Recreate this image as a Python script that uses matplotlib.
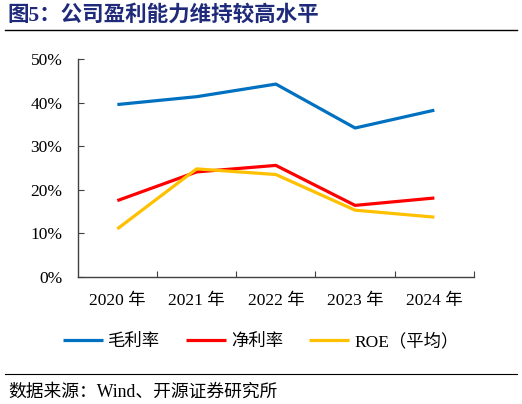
#!/usr/bin/env python3
"""
图5：公司盈利能力维持较高水平
"""
import matplotlib
matplotlib.use("Agg")
import matplotlib.pyplot as plt
from matplotlib.lines import Line2D
from matplotlib.ticker import FuncFormatter

# données (en %)
annees = ["2020 年", "2021 年", "2022 年", "2023 年", "2024 年"]
marge_brute = [39.6, 41.4, 44.3, 34.2, 38.3]
marge_nette = [17.5, 24.1, 25.6, 16.4, 18.1]
roe_moyen = [11.0, 24.8, 23.5, 15.3, 13.7]
noms = ["毛利率", "净利率", "ROE（平均）"]
couleurs = ["#0070C0", "#FF0000", "#FFC000"]

FAM = ["Liberation Serif", "Noto Sans CJK SC"]
plt.rcParams["font.family"] = FAM


def main():
    fig = plt.figure(figsize=(5.22, 4.04), dpi=100)
    ax = fig.add_axes([0.1489, 0.3151, 0.908 - 0.1489, 0.8532 - 0.3151])

    x = list(range(len(annees)))
    for serie, nom, c in zip([marge_brute, marge_nette, roe_moyen], noms, couleurs):
        ax.plot(x, serie, color=c, lw=2.3, label=nom, solid_capstyle="butt")

    ax.set_xlim(-0.5, len(annees) - 0.5)
    ax.set_ylim(0, 50)
    ax.set_yticks([0, 10, 20, 30, 40, 50])
    ax.yaxis.set_major_formatter(FuncFormatter(lambda v, p: f"{v:.0f}%"))

    # ticks aux frontières, étiquettes au centre
    ax.set_xticks([i + 0.5 for i in x])
    ax.set_xticklabels([])
    ax.set_xticks(x, minor=True)
    ax.set_xticklabels(annees, minor=True)
    ax.tick_params(axis="x", which="minor", length=0, pad=12, labelsize=12.5)
    ax.tick_params(axis="x", which="major", direction="in", length=4,
                   color="#404040")
    ax.tick_params(axis="y", direction="in", length=4, pad=11,
                   labelsize=12.5, color="#404040")

    for cote in ["top", "right"]:
        ax.spines[cote].set_visible(False)
    for cote in ["left", "bottom"]:
        ax.spines[cote].set_color("#404040")
        ax.spines[cote].set_linewidth(1.0)

    ax.legend(loc="center", bbox_to_anchor=(0.462, -0.3), ncol=3,
              frameon=False, fontsize=12.5, handlelength=2.3,
              handletextpad=0.3, columnspacing=1.5)

    # titre et source
    fig.text(0.015, 0.963, "图5：公司盈利能力维持较高水平", fontsize=15.5,
             fontweight="bold", color="#1F2A7A", va="center", ha="left")
    fig.add_artist(Line2D([0.01, 0.99], [0.926, 0.926], color="black", lw=1.0))
    fig.add_artist(Line2D([0.01, 0.99], [0.074, 0.074], color="black", lw=0.8))
    fig.text(0.015, 0.03, "数据来源：Wind、开源证券研究所", fontsize=12.8,
             va="center", ha="left")

    fig.savefig("out.png", dpi=100)


if __name__ == "__main__":
    main()
